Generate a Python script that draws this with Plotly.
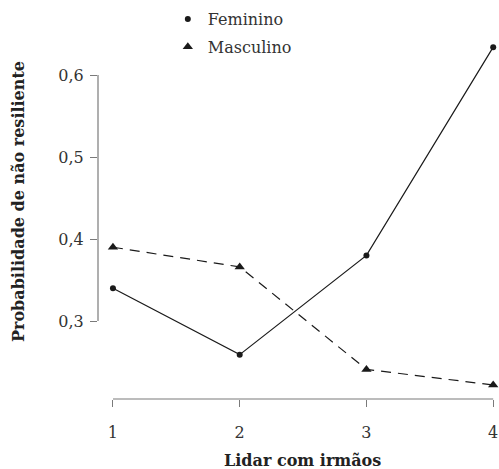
import plotly.graph_objects as go

x_vals = [1, 2, 3, 4]
feminino = [0.340, 0.259, 0.380, 0.634]
masculino = [0.390, 0.366, 0.241, 0.222]
y_ticks = [0.3, 0.4, 0.5, 0.6]
x_ticks = [1, 2, 3, 4]
x_title = "Lidar com irmãos"
y_title = "Probabilidade de não resiliente"

FONT = "DejaVu Serif, Liberation Serif, serif"
AX = "#7a7a7a"

fig = go.Figure()
fig.add_trace(go.Scatter(x=x_vals, y=feminino, mode="lines+markers",
                         line=dict(color="#1a1a1a", width=1.2),
                         marker=dict(symbol="circle", size=6, color="#1a1a1a"),
                         showlegend=False, cliponaxis=False))
fig.add_trace(go.Scatter(x=x_vals, y=masculino, mode="lines+markers",
                         line=dict(color="#1a1a1a", width=1.2, dash="10px,7px"),
                         marker=dict(symbol="triangle-up", size=9, color="#1a1a1a"),
                         showlegend=False, cliponaxis=False))
fig.add_trace(go.Scatter(x=[None], y=[None], mode="markers", name="Feminino",
                         marker=dict(symbol="circle", size=6, color="#1a1a1a"),
                         legendgroup="f"))
fig.add_trace(go.Scatter(x=[None], y=[None], mode="markers", name="Masculino",
                         marker=dict(symbol="triangle-up", size=9, color="#1a1a1a"),
                         legendgroup="m"))

fig.add_shape(type="line", xref="x", yref="paper", x0=1, x1=4, y0=0, y1=0,
              line=dict(color=AX, width=1.2))
fig.add_shape(type="line", xref="paper", yref="y", x0=0, x1=0, y0=0.3, y1=0.6,
              line=dict(color=AX, width=1.2))

fig.add_annotation(text="<b>" + x_title + "</b>", xref="paper", yref="paper",
                   x=0.5125, y=-0.170, xanchor="center", yanchor="middle",
                   showarrow=False, font=dict(size=16, color="#222"))
fig.add_annotation(text="<b>" + y_title + "</b>", xref="paper", yref="paper",
                   x=-0.2005, y=0.5487, xanchor="center", yanchor="middle",
                   textangle=-90, showarrow=False, font=dict(size=16, color="#222"))

fig.update_layout(
    width=499, height=469,
    margin=dict(l=98, r=2, t=40, b=70),
    paper_bgcolor="white", plot_bgcolor="white",
    separators=",.",
    font=dict(family=FONT, size=16, color="#333333"),
    xaxis=dict(range=[0.882, 4.03], tickvals=x_ticks, ticks="outside", ticklen=7,
               tickcolor=AX, tickwidth=1.2, showline=False, showgrid=False,
               zeroline=False, tickfont=dict(size=16), ticklabelstandoff=12),
    yaxis=dict(range=[0.2049, 0.6427], tickvals=y_ticks, tickformat=".1f",
               ticks="outside", ticklen=7, tickcolor=AX, tickwidth=1.2,
               showline=False, showgrid=False, zeroline=False, tickfont=dict(size=16),
               ticklabelstandoff=3),
    legend=dict(x=0.175, y=1.1056, xanchor="left", yanchor="top", tracegroupgap=4,
                bgcolor="rgba(0,0,0,0)", font=dict(size=16)),
)

fig.write_html("out.html", config={"displayModeBar": False},
               post_script="document.body.style.margin='0';document.body.style.overflow='hidden';")
